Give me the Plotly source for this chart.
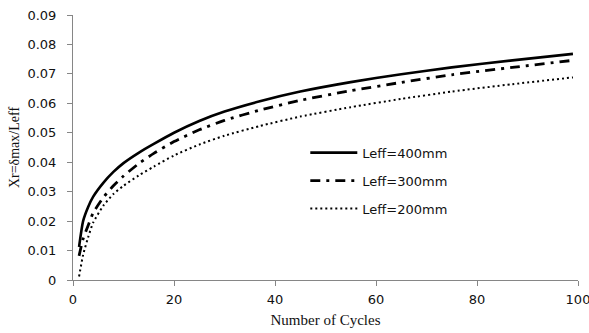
import plotly.graph_objects as go

# Data
cycles = [1.2, 2, 3, 4, 6, 8, 10, 13, 16, 20, 25, 30, 37, 45, 55, 65, 75, 87, 99]
xr_400 = [0.0112, 0.0200, 0.0248, 0.0283, 0.0330, 0.0367, 0.0397, 0.0432, 0.0462, 0.0500,
          0.0540, 0.0572, 0.0607, 0.0640, 0.0672, 0.0699, 0.0722, 0.0746, 0.0768]
xr_300 = [0.0082, 0.0140, 0.0185, 0.0228, 0.0280, 0.0320, 0.0353, 0.0395, 0.0430, 0.0470,
          0.0510, 0.0542, 0.0577, 0.0610, 0.0643, 0.0671, 0.0697, 0.0722, 0.0746]
xr_200 = [0.0012, 0.0085, 0.0145, 0.0195, 0.0252, 0.0292, 0.0320, 0.0355, 0.0385, 0.0423,
          0.0460, 0.0490, 0.0523, 0.0555, 0.0587, 0.0615, 0.0640, 0.0665, 0.0688]
series_names = ["Leff=400mm", "Leff=300mm", "Leff=200mm"]

x_ticks = [0, 20, 40, 60, 80, 100]
y_ticks = [0, 0.01, 0.02, 0.03, 0.04, 0.05, 0.06, 0.07, 0.08, 0.09]
y_tick_labels = ["0", "0.01", "0.02", "0.03", "0.04", "0.05", "0.06", "0.07", "0.08", "0.09"]

axis_color = "#868686"
text_color = "#111111"

fig = go.Figure()
styles = [
    dict(color="black", width=2.6, dash="solid"),
    dict(color="black", width=2.8, dash="10px,6px,3px,6px"),
    dict(color="black", width=2.0, dash="2px,3px"),
]
for i, (name, ys, st) in enumerate(zip(series_names, [xr_400, xr_300, xr_200], styles)):
    fig.add_trace(go.Scatter(
        x=cycles, y=ys, mode="lines", name=name,
        line=dict(shape="spline", smoothing=0.6, **st),
        legendgroup=f"g{i}",
    ))

fig.update_layout(
    width=589, height=333,
    margin=dict(l=73, r=11, t=15, b=53, autoexpand=False),
    paper_bgcolor="white", plot_bgcolor="white",
    font=dict(family="DejaVu Sans", size=13, color=text_color),
    showlegend=True,
    legend=dict(
        x=0.46, y=0.537, xanchor="left", yanchor="top",
        bgcolor="rgba(0,0,0,0)", borderwidth=0,
        font=dict(family="DejaVu Sans", size=13, color=text_color),
        tracegroupgap=8, traceorder="grouped", itemwidth=47,
    ),
    xaxis=dict(
        range=[0, 100], tickvals=x_ticks, showgrid=False, zeroline=False,
        showline=True, linecolor=axis_color, linewidth=1,
        ticks="outside", ticklen=5, tickcolor=axis_color,
        ticklabeloverflow="allow", ticklabelstandoff=2, automargin=False,
        title=dict(text="Number of Cycles", font=dict(family="Liberation Serif", size=15, color=text_color), standoff=8),
    ),
    yaxis=dict(
        range=[0, 0.09], tickvals=y_ticks, ticktext=y_tick_labels, showgrid=False, zeroline=False,
        showline=True, linecolor=axis_color, linewidth=1,
        ticks="outside", ticklen=5, tickcolor=axis_color,
        ticklabelstandoff=8, automargin=False,
        title=dict(text="Xr=δmax/Leff", font=dict(family="Liberation Serif", size=14, color=text_color), standoff=4),
    ),
)

fig.write_html("out.html")
